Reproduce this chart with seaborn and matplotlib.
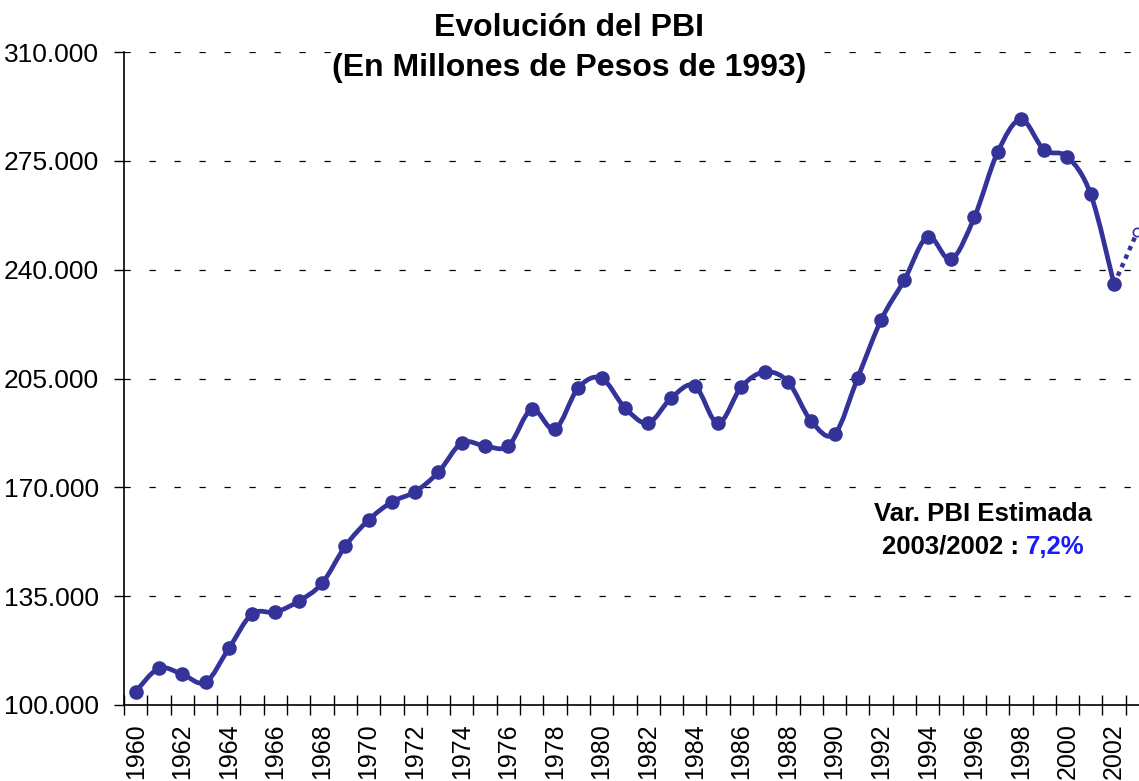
import numpy as np
import pandas as pd
import seaborn as sns
import matplotlib.pyplot as plt
from matplotlib.path import Path
from matplotlib.patches import PathPatch
from matplotlib.ticker import FixedLocator, FuncFormatter

# PBI en millones de pesos de 1993
anios = list(range(1960, 2003))
pbi = [104300, 111800, 109900, 107300, 118200, 129300, 129900, 133400, 139100, 151100,
       159500, 165300, 168600, 174900, 184300, 183300, 183300, 195100, 188700, 202000,
       205100, 195600, 190700, 198800, 202700, 190600, 202300, 207100, 204000, 191300,
       187100, 205300, 223800, 236700, 250600, 243300, 256800, 277700, 288300, 278500,
       276300, 264200, 235300]
anio_est = 2003
pbi_est = 252200
yticks = [100000, 135000, 170000, 205000, 240000, 275000, 310000]

color = '#333399'

sns.set_style('white')
plt.rcParams['font.family'] = ['Liberation Sans', 'DejaVu Sans']
plt.rcParams['text.color'] = 'black'
plt.rcParams['xtick.color'] = 'black'
plt.rcParams['ytick.color'] = 'black'

df = pd.DataFrame({'pos': np.arange(len(anios)), 'anio': anios, 'pbi': pbi})

fig = plt.figure(figsize=(11.39, 7.81), dpi=100)
ax = fig.add_axes([124 / 1139, 76 / 781, 1025 / 1139, 653 / 781])

# linea suavizada (curvas bezier tipo Catmull-Rom entre los puntos)
pts = df[['pos', 'pbi']].to_numpy(dtype=float)
ext = np.vstack([pts[0], pts, pts[-1]])
verts = [tuple(pts[0])]
codes = [Path.MOVETO]
for i in range(1, len(ext) - 2):
    p0, p1, p2, p3 = ext[i - 1], ext[i], ext[i + 1], ext[i + 2]
    c1 = p1 + (p2 - p0) / 6
    c2 = p2 - (p3 - p1) / 6
    verts += [tuple(c1), tuple(c2), tuple(p2)]
    codes += [Path.CURVE4] * 3
ax.add_patch(PathPatch(Path(verts, codes), facecolor='none', edgecolor=color,
                       lw=3.4, zorder=3, capstyle='round', joinstyle='round'))

sns.scatterplot(data=df, x='pos', y='pbi', color=color, s=110, edgecolor=color,
                linewidth=0, zorder=4, ax=ax)

# estimacion 2003
df_est = pd.DataFrame({'pos': [len(anios) - 1, anio_est - anios[0]],
                       'pbi': [pbi[-1], pbi_est]})
sns.lineplot(data=df_est, x='pos', y='pbi', color=color, lw=3.2,
             linestyle=(0, (1.0, 1.1)), zorder=3, ax=ax)
ax.plot([anio_est - anios[0]], [pbi_est], 'o', ms=6, mfc='white', mec=color,
        mew=1.2, zorder=5)

ax.set_xlim(-0.5, len(anios) + 0.5)
ax.set_ylim(100000, 310000)

ax.set_yticks(yticks)
ax.yaxis.set_major_formatter(FuncFormatter(lambda v, p: f'{v:,.0f}'.replace(',', '.')))
ax.tick_params(axis='y', direction='out', length=7, width=1, pad=11,
               labelsize=19, left=True, color='black')
for v in yticks[1:]:
    ax.axhline(v, color='black', lw=0.9, linestyle=(0, (5, 15)), zorder=1)

ax.set_xticks(np.arange(0, len(anios), 2))
ax.set_xticklabels([str(a) for a in anios[::2]], rotation=90)
ax.xaxis.set_minor_locator(FixedLocator(np.arange(-0.5, len(anios) + 1, 1)))
ax.tick_params(axis='x', which='major', length=0, pad=13, labelsize=18)
ax.tick_params(axis='x', which='minor', direction='inout', length=14, width=1,
               bottom=True, color='black')

ax.set_xlabel('')
ax.set_ylabel('')
for s in ['top', 'right']:
    ax.spines[s].set_visible(False)
for s in ['left', 'bottom']:
    ax.spines[s].set_color('black')
    ax.spines[s].set_linewidth(1.2)

fig.text(569 / 1139, 1 - 48 / 781, 'Evolución del PBI\n(En Millones de Pesos de 1993)',
         ha='center', va='center', fontsize=23, fontweight='bold', linespacing=1.45,
         bbox=dict(facecolor='white', edgecolor='none', pad=1), zorder=10)

fig.text(983 / 1139, 1 - 514 / 781, 'Var. PBI Estimada', ha='center', va='center',
         fontsize=18.5, fontweight='bold')
fig.text(1026 / 1139, 1 - 547 / 781, '2003/2002 : ', ha='right', va='center',
         fontsize=18.5, fontweight='bold')
fig.text(1026 / 1139, 1 - 547 / 781, '7,2%', ha='left', va='center',
         fontsize=18.5, fontweight='bold', color='#1a1aff')

fig.savefig('out.png', dpi=100)
